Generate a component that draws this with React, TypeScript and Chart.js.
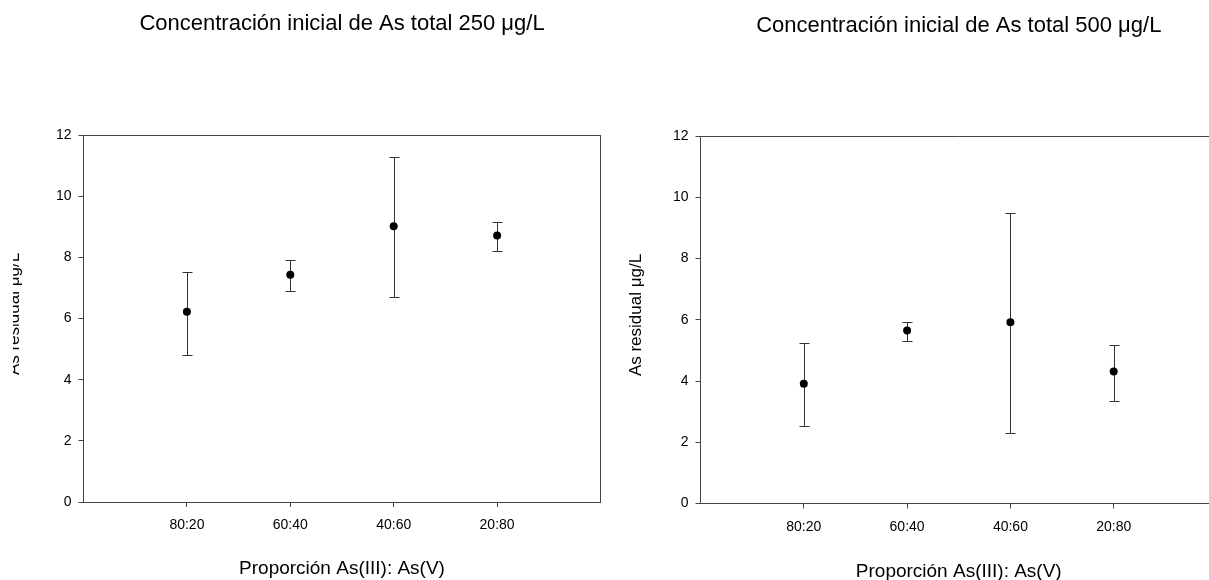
import React, { useEffect, useRef } from 'react';
import { Chart, registerables } from 'chart.js';

Chart.register(...registerables);

const FONT = '"Liberation Sans", Arial, sans-serif';
Chart.defaults.font.family = FONT;

// ---------- data ----------
const categories = ['80:20', '60:40', '40:60', '20:80'];
const categoryPositions = [1, 2, 3, 4];
const yTicks = [0, 2, 4, 6, 8, 10, 12];

const mean250 = [6.22, 7.43, 9.02, 8.71];
const low250 = [4.82, 6.89, 6.71, 8.21];
const high250 = [7.52, 7.91, 11.29, 9.15];

const mean500 = [3.91, 5.65, 5.92, 4.31];
const low500 = [2.52, 5.29, 2.3, 3.35];
const high500 = [5.23, 5.93, 9.49, 5.19];

const title250 = 'Concentración inicial de As total 250 μg/L';
const title500 = 'Concentración inicial de As total 500 μg/L';
const xTitle = 'Proporción As(III): As(V)';
const yTitle = 'As residual μg/L';

type PanelSpec = {
  canvasLeft: number;
  canvasWidth: number;
  areaLeft: number;
  areaRight: number;
  areaTop: number;
  areaBottom: number;
  title: string;
  means: number[];
  lows: number[];
  highs: number[];
  closedBox: boolean;
  titleY: number;
  xTitleY: number;
  yTitleX: number;
  yTitleY: number;
};

const H = 580;
const AXIS = '#444';

const panels: PanelSpec[] = [
  {
    canvasLeft: 13, canvasWidth: 600,
    areaLeft: 83.5, areaRight: 600.5, areaTop: 135, areaBottom: 502,
    title: title250, means: mean250, lows: low250, highs: high250,
    closedBox: true, titleY: 24, xTitleY: 569, yTitleX: 14, yTitleY: 314,
  },
  {
    canvasLeft: 613, canvasWidth: 620,
    areaLeft: 700.5, areaRight: 1217, areaTop: 136, areaBottom: 503.5,
    title: title500, means: mean500, lows: low500, highs: high500,
    closedBox: false, titleY: 26, xTitleY: 572, yTitleX: 636, yTitleY: 315,
  },
];

function PanelChart({ p }: { p: PanelSpec }) {
  const ref = useRef<HTMLCanvasElement>(null);
  useEffect(() => {
    const canvas = ref.current!;
    const aL = p.areaLeft - p.canvasLeft;
    const aR = p.areaRight - p.canvasLeft;

    const decor = {
      id: 'decor',
      beforeDatasetsDraw(chart: any) {
        const ctx = chart.ctx;
        const xs = chart.scales.x;
        const ys = chart.scales.y;
        ctx.save();
        ctx.strokeStyle = '#333';
        ctx.lineWidth = 1;
        categoryPositions.forEach((pos, i) => {
          const x = Math.round(xs.getPixelForValue(pos)) + 0.5;
          const yl = Math.round(ys.getPixelForValue(p.lows[i])) + 0.5;
          const yh = Math.round(ys.getPixelForValue(p.highs[i])) + 0.5;
          ctx.beginPath();
          ctx.moveTo(x, yl);
          ctx.lineTo(x, yh);
          ctx.moveTo(x - 5, yl);
          ctx.lineTo(x + 5, yl);
          ctx.moveTo(x - 5, yh);
          ctx.lineTo(x + 5, yh);
          ctx.stroke();
        });
        ctx.restore();
      },
      afterDraw(chart: any) {
        const ctx = chart.ctx;
        const a = chart.chartArea;
        ctx.save();
        ctx.strokeStyle = AXIS;
        ctx.lineWidth = 1;
        ctx.beginPath();
        const top = Math.round(a.top) + 0.5;
        ctx.moveTo(a.left, top);
        ctx.lineTo(a.right, top);
        if (p.closedBox) {
          const r = Math.round(a.right) - 0.5;
          ctx.moveTo(r, a.top);
          ctx.lineTo(r, a.bottom);
        }
        ctx.stroke();

        const cx = (a.left + a.right) / 2;
        ctx.fillStyle = '#000';
        ctx.textAlign = 'center';
        ctx.textBaseline = 'middle';
        ctx.font = `22px ${FONT}`;
        ctx.fillText(p.title, cx, p.titleY);
        ctx.font = `19px ${FONT}`;
        ctx.fillText(xTitle, cx, p.xTitleY);
        ctx.save();
        ctx.translate(p.yTitleX - p.canvasLeft, p.yTitleY);
        ctx.rotate(-Math.PI / 2);
        ctx.font = `17px ${FONT}`;
        ctx.fillText(yTitle, 0, 0);
        ctx.restore();
        ctx.restore();
      },
    };

    const chart = new Chart(canvas, {
      type: 'scatter',
      data: {
        datasets: [
          {
            data: categoryPositions.map((x, i) => ({ x, y: p.means[i] })),
            pointRadius: 4,
            pointHoverRadius: 4,
            pointBackgroundColor: '#000',
            pointBorderColor: '#000',
            pointBorderWidth: 0,
            showLine: false,
          },
        ],
      },
      options: {
        responsive: false,
        animation: false,
        devicePixelRatio: 1,
        events: [],
        layout: {
          padding: { left: 0, right: p.canvasWidth - aR, top: p.areaTop, bottom: 0 },
        },
        plugins: {
          legend: { display: false },
          tooltip: { enabled: false },
          title: { display: false },
        },
        scales: {
          x: {
            type: 'linear',
            min: 0,
            max: 5,
            afterBuildTicks: (s: any) => {
              s.ticks = categoryPositions.map((v) => ({ value: v }));
            },
            afterFit: (s: any) => {
              s.height = H - p.areaBottom;
            },
            ticks: {
              autoSkip: false,
              maxRotation: 0,
              padding: 10,
              color: '#000',
              font: { size: 14, family: FONT },
              callback: (v: any) => {
                const idx = categoryPositions.indexOf(Number(v));
                return idx >= 0 ? categories[idx] : '';
              },
            },
            grid: {
              drawOnChartArea: false,
              drawTicks: true,
              tickLength: 5,
              color: AXIS,
              lineWidth: 1,
            },
            border: { display: true, color: AXIS, width: 1 },
          },
          y: {
            type: 'linear',
            min: 0,
            max: 12,
            afterBuildTicks: (s: any) => {
              s.ticks = yTicks.map((v) => ({ value: v }));
            },
            afterFit: (s: any) => {
              s.width = aL;
            },
            ticks: {
              padding: 7,
              color: '#000',
              font: { size: 14, family: FONT },
            },
            grid: {
              drawOnChartArea: false,
              drawTicks: true,
              tickLength: 5,
              color: AXIS,
              lineWidth: 1,
            },
            border: { display: true, color: AXIS, width: 1 },
          },
        },
      },
      plugins: [decor],
    } as any);
    return () => chart.destroy();
  }, [p]);

  return (
    <canvas
      ref={ref}
      width={p.canvasWidth}
      height={H}
      style={{ position: 'absolute', left: p.canvasLeft, top: 0, width: p.canvasWidth, height: H }}
    />
  );
}

export default function App() {
  return (
    <div
      style={{
        position: 'absolute',
        left: 0,
        top: 0,
        width: 1209,
        height: 580,
        overflow: 'hidden',
        background: '#fff',
      }}
    >
      {panels.map((p, i) => (
        <PanelChart key={i} p={p} />
      ))}
    </div>
  );
}
